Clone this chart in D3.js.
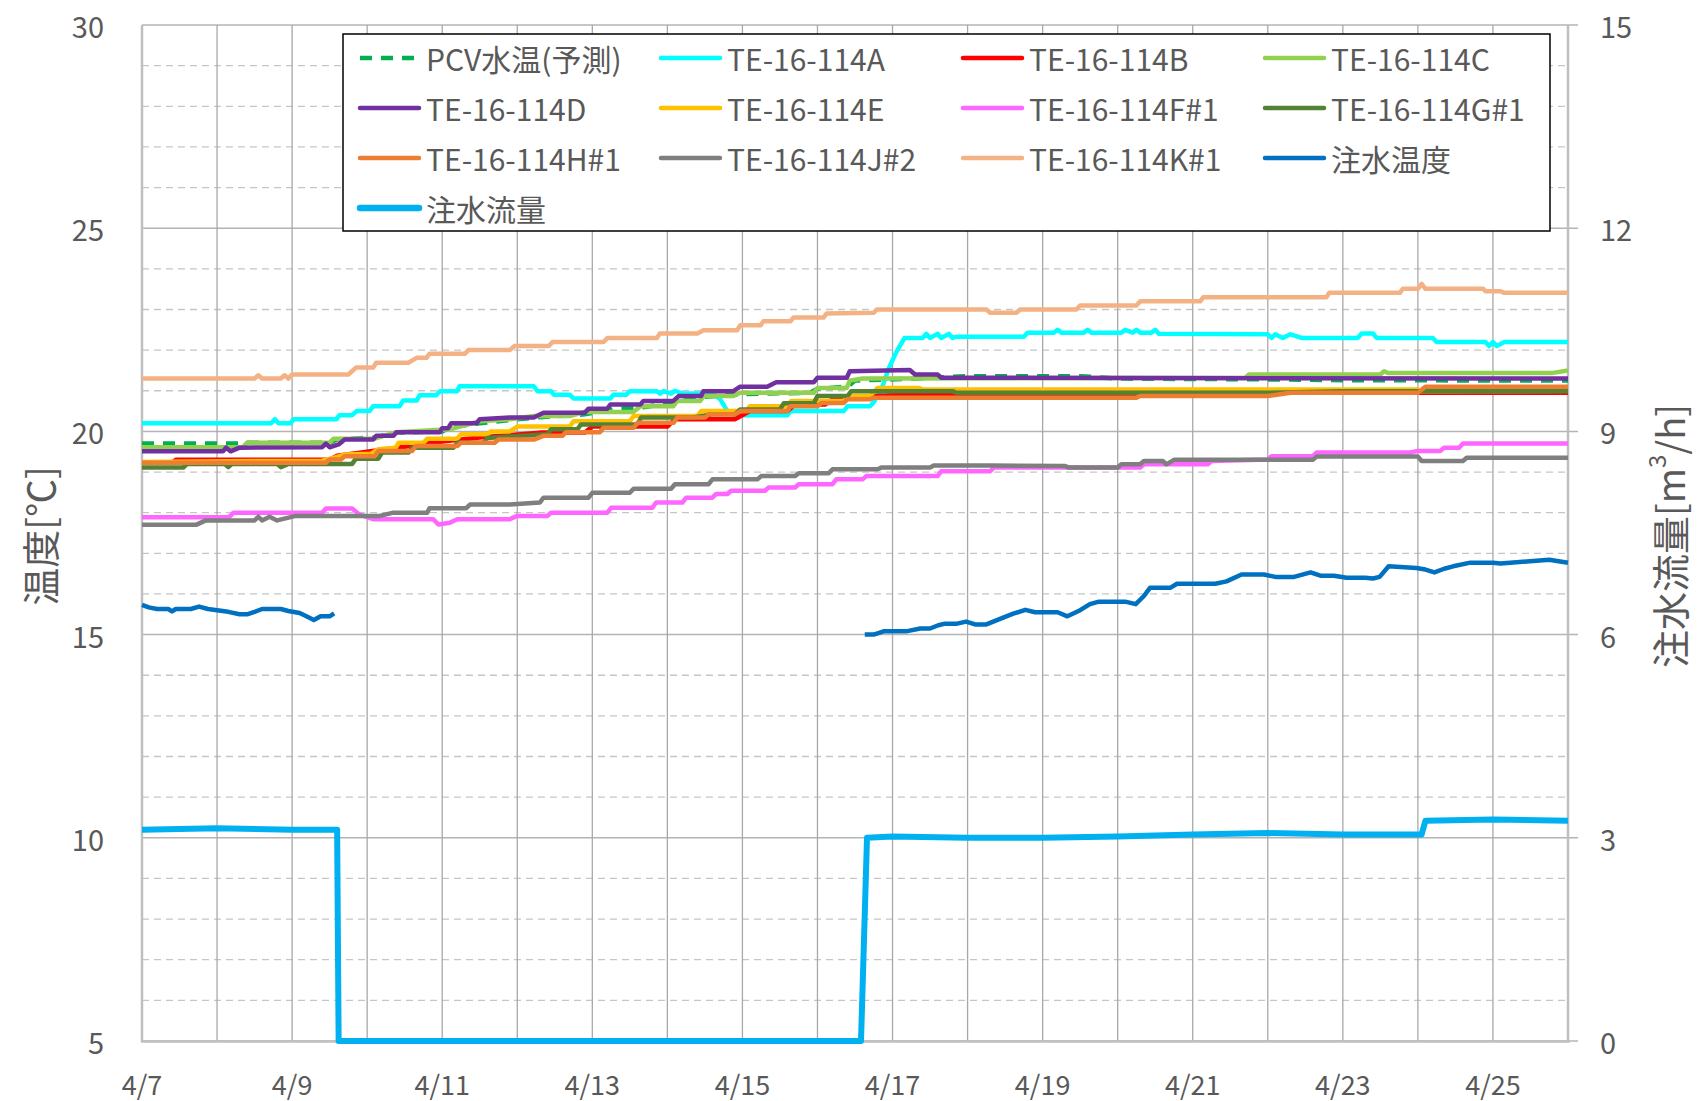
<!DOCTYPE html>
<html>
<head>
<meta charset="utf-8">
<script src="https://cdn.jsdelivr.net/npm/d3@7"></script>
<style>
  body { margin: 0; background: #fff; }
  svg { display: block; }
  text { fill: #595959; }
</style>
</head>
<body>
<svg id="chart" width="1699" height="1101"></svg>
<script>
// 日付ラベル (2日おき)
const xLabels = ["4/7", "4/9", "4/11", "4/13", "4/15", "4/17", "4/19", "4/21", "4/23", "4/25"];
const yLeftTicks = [5, 10, 15, 20, 25, 30];
const yRightTicks = [0, 3, 6, 9, 12, 15];

// [4/7からの日数, 温度]
const pcv = [[0,19.7],[1.35,19.7],[1.4,19.72],[2.5,19.72],[2.6,19.8],[3.1,19.85],[3.4,19.97],[4.0,20.0],[4.1,20.1],[4.5,20.2],[4.9,20.28],[5.3,20.35],[5.9,20.42],[6.3,20.55],[6.7,20.6],[7.1,20.72],[7.5,20.85],[8.0,20.92],[8.9,20.95],[9.0,21.05],[9.4,21.1],[9.5,21.25],[10.3,21.3],[11.0,21.36],[12.5,21.36],[13.0,21.3],[15.0,21.28],[16.0,21.26],[19.0,21.25]];
const teA = [[0,20.2],[1.72,20.2],[1.77,20.3],[1.82,20.2],[1.98,20.2],[2.02,20.3],[2.59,20.3],[2.63,20.4],[2.8,20.4],[2.86,20.5],[3.03,20.5],[3.08,20.62],[3.43,20.62],[3.48,20.76],[3.66,20.76],[3.7,20.89],[3.92,20.89],[3.97,20.99],[4.2,20.99],[4.23,21.11],[5.22,21.11],[5.27,20.99],[5.45,20.99],[5.49,20.9],[5.7,20.9],[5.75,20.81],[6.24,20.81],[6.28,20.9],[6.45,20.9],[6.5,20.99],[6.86,20.99],[6.9,20.93],[6.95,20.99],[7.05,20.93],[7.1,21.0],[7.2,20.93],[7.6,20.93],[7.7,20.8],[7.8,20.5],[7.9,20.4],[8.6,20.4],[8.64,20.5],[9.35,20.5],[9.4,20.62],[9.7,20.62],[9.75,20.72],[9.85,21.03],[9.95,21.55],[10.05,21.95],[10.16,22.3],[10.4,22.3],[10.45,22.4],[10.5,22.3],[10.6,22.4],[10.65,22.3],[10.75,22.4],[10.8,22.3],[10.85,22.33],[11.75,22.33],[11.8,22.43],[12.15,22.43],[12.2,22.5],[12.25,22.43],[12.55,22.43],[12.6,22.5],[12.65,22.43],[13.05,22.43],[13.1,22.5],[13.2,22.43],[13.25,22.5],[13.3,22.43],[13.45,22.43],[13.5,22.5],[13.55,22.4],[15.0,22.39],[15.05,22.3],[15.1,22.39],[15.2,22.3],[15.3,22.39],[15.45,22.3],[16.2,22.3],[16.25,22.41],[16.4,22.41],[16.45,22.3],[17.2,22.3],[17.25,22.2],[17.9,22.2],[17.95,22.1],[18.0,22.2],[18.05,22.1],[18.15,22.2],[19,22.2]];
const teB = [[0,19.23],[0.4,19.23],[0.45,19.3],[2.5,19.3],[2.6,19.4],[3.0,19.5],[3.5,19.62],[4.0,19.75],[4.5,19.85],[5.3,19.97],[5.9,19.97],[6.0,20.12],[7.0,20.12],[7.1,20.3],[7.9,20.3],[8.1,20.5],[8.6,20.5],[8.7,20.66],[9.1,20.66],[9.2,20.79],[9.75,20.87],[10.0,20.89],[14.5,20.89],[14.6,20.95],[19,20.95]];
const teC = [[0,19.61],[1.34,19.61],[1.4,19.72],[2.5,19.72],[2.55,19.82],[3.1,19.82],[3.39,19.98],[4.1,20.05],[4.5,20.25],[4.9,20.3],[5.22,20.38],[5.71,20.38],[5.9,20.48],[6.55,20.48],[6.64,20.62],[7.08,20.62],[7.13,20.75],[7.44,20.75],[7.48,20.87],[7.88,20.87],[7.97,20.95],[8.95,20.95],[9.0,21.07],[9.39,21.07],[9.43,21.25],[9.6,21.3],[14.7,21.32],[14.75,21.4],[16.5,21.4],[16.55,21.48],[16.6,21.44],[18.8,21.44],[19,21.5]];
const teD = [[0,19.51],[1.08,19.51],[1.12,19.6],[1.18,19.51],[1.3,19.6],[2.4,19.61],[2.45,19.7],[2.5,19.61],[2.62,19.68],[2.7,19.8],[3.08,19.8],[3.12,19.89],[3.35,19.89],[3.39,19.98],[3.97,19.98],[4.0,20.08],[4.08,20.08],[4.12,20.2],[4.46,20.2],[4.5,20.3],[4.9,20.34],[5.22,20.34],[5.35,20.46],[5.9,20.46],[5.95,20.56],[6.2,20.56],[6.24,20.66],[6.64,20.66],[6.68,20.75],[7.08,20.75],[7.15,20.87],[7.45,20.87],[7.48,20.99],[7.88,20.99],[7.97,21.1],[8.33,21.1],[8.45,21.21],[8.95,21.21],[9.0,21.32],[9.39,21.32],[9.43,21.48],[10.23,21.51],[10.3,21.4],[10.6,21.4],[10.65,21.32],[19,21.3]];
const teE = [[0,19.25],[2.4,19.28],[2.55,19.35],[2.7,19.43],[3.05,19.45],[3.15,19.56],[3.38,19.6],[3.42,19.72],[3.75,19.72],[3.8,19.82],[4.2,19.82],[4.25,19.93],[4.6,19.93],[4.65,20.0],[4.9,20.0],[5.0,20.12],[5.7,20.12],[5.75,20.25],[6.5,20.25],[6.55,20.38],[7.4,20.38],[7.45,20.5],[8.05,20.5],[8.1,20.62],[8.6,20.62],[8.65,20.75],[9.35,20.75],[9.4,20.87],[9.7,20.87],[9.8,21.07],[10.35,21.07],[10.4,21.03],[17.0,21.03],[17.05,20.99],[19,21.0]];
const teF = [[0,17.89],[1.16,17.89],[1.22,18.0],[2.4,18.0],[2.45,18.1],[2.8,18.1],[2.9,17.95],[3.08,17.84],[3.88,17.84],[3.95,17.71],[4.1,17.75],[4.2,17.84],[4.9,17.84],[5.0,17.92],[5.4,17.92],[5.45,18.0],[6.2,18.0],[6.25,18.12],[6.8,18.12],[6.85,18.25],[7.2,18.25],[7.25,18.37],[7.6,18.37],[7.65,18.46],[7.8,18.46],[7.85,18.54],[8.3,18.54],[8.35,18.62],[8.7,18.62],[8.75,18.7],[9.2,18.7],[9.25,18.82],[9.6,18.82],[9.65,18.9],[10.6,18.9],[10.65,19.02],[11.3,19.02],[11.35,19.11],[13.3,19.11],[13.35,19.19],[14.2,19.19],[14.25,19.27],[15.0,19.31],[15.05,19.39],[15.6,19.39],[15.65,19.48],[16.9,19.48],[17.0,19.52],[17.3,19.52],[17.35,19.6],[17.55,19.6],[17.6,19.7],[19,19.7]];
const teG = [[0,19.11],[0.55,19.11],[0.6,19.2],[1.1,19.2],[1.15,19.12],[1.2,19.2],[1.8,19.2],[1.85,19.12],[1.95,19.2],[2.8,19.2],[2.85,19.33],[3.15,19.33],[3.2,19.48],[3.55,19.48],[3.6,19.6],[4.15,19.6],[4.2,19.72],[4.55,19.72],[4.6,19.84],[5.4,19.93],[5.45,20.05],[5.8,20.05],[5.85,20.17],[6.6,20.17],[6.65,20.34],[7.35,20.34],[7.6,20.42],[7.9,20.42],[7.97,20.54],[8.5,20.54],[8.55,20.69],[8.95,20.69],[9.0,20.87],[9.4,20.87],[9.45,20.99],[10.8,20.99],[10.85,20.95],[15.0,20.95],[16.0,20.99],[19,20.99]];
const teH = [[0,19.23],[2.45,19.23],[2.5,19.31],[2.65,19.31],[2.7,19.39],[3.1,19.39],[3.15,19.52],[3.6,19.52],[3.65,19.64],[4.2,19.64],[4.25,19.72],[4.7,19.72],[4.75,19.8],[5.22,19.8],[5.35,19.89],[5.6,19.89],[5.65,19.98],[6.1,19.98],[6.15,20.09],[6.55,20.09],[6.6,20.21],[7.08,20.21],[7.13,20.34],[7.5,20.34],[7.55,20.42],[7.9,20.42],[7.97,20.5],[8.6,20.5],[8.64,20.62],[9.0,20.62],[9.05,20.7],[9.35,20.7],[9.4,20.79],[9.7,20.79],[9.75,20.83],[13.25,20.83],[13.3,20.87],[15.0,20.87],[15.3,20.95],[17.0,20.95],[17.1,21.1],[19,21.1]];
const teJ = [[0,17.7],[0.72,17.7],[0.85,17.81],[1.5,17.81],[1.55,17.9],[1.6,17.81],[1.7,17.9],[1.8,17.81],[2.05,17.92],[3.17,17.92],[3.35,18.0],[3.8,18.0],[3.83,18.11],[4.32,18.11],[4.37,18.2],[4.9,18.2],[5.3,18.25],[5.35,18.37],[5.95,18.37],[6.0,18.49],[6.5,18.49],[6.55,18.59],[7.05,18.59],[7.1,18.7],[7.55,18.7],[7.6,18.82],[8.2,18.82],[8.25,18.9],[8.7,18.9],[8.75,18.97],[9.15,18.97],[9.2,19.07],[9.8,19.07],[9.85,19.11],[10.5,19.11],[10.55,19.16],[11.3,19.16],[12.3,19.15],[12.35,19.11],[13.0,19.11],[13.05,19.19],[13.3,19.19],[13.35,19.27],[13.6,19.27],[13.65,19.19],[13.75,19.3],[15.6,19.3],[15.65,19.38],[17.0,19.38],[17.05,19.27],[17.6,19.27],[17.65,19.35],[19,19.35]];
const teK = [[0,21.3],[1.5,21.3],[1.55,21.38],[1.6,21.3],[1.85,21.3],[1.9,21.38],[1.95,21.3],[2.0,21.4],[2.75,21.4],[2.85,21.57],[3.08,21.57],[3.12,21.69],[3.55,21.69],[3.66,21.81],[3.79,21.81],[3.83,21.91],[4.3,21.91],[4.35,22.0],[4.9,22.0],[4.96,22.1],[5.42,22.1],[5.47,22.2],[6.15,22.2],[6.2,22.3],[6.86,22.3],[6.9,22.41],[7.4,22.41],[7.48,22.49],[7.93,22.49],[7.97,22.61],[8.24,22.61],[8.28,22.71],[8.64,22.71],[8.68,22.8],[9.08,22.8],[9.12,22.9],[9.75,22.92],[9.79,23.0],[11.25,23.0],[11.3,22.92],[11.65,22.92],[11.7,23.0],[12.45,23.0],[12.5,23.1],[13.25,23.1],[13.3,23.2],[14.1,23.2],[14.14,23.3],[15.78,23.3],[15.82,23.41],[16.76,23.41],[16.8,23.51],[17.0,23.51],[17.05,23.63],[17.1,23.51],[17.87,23.51],[17.9,23.45],[18.1,23.45],[18.15,23.41],[19,23.41]];
const injTemp = [[0,15.73],[0.09,15.67],[0.2,15.63],[0.35,15.63],[0.4,15.57],[0.45,15.63],[0.65,15.63],[0.76,15.69],[0.88,15.63],[1.0,15.6],[1.15,15.56],[1.3,15.5],[1.4,15.5],[1.5,15.56],[1.6,15.63],[1.85,15.63],[1.95,15.58],[2.1,15.53],[2.17,15.47],[2.29,15.36],[2.38,15.45],[2.5,15.45],[2.56,15.52],[2.6,null],[9.63,15.0],[9.75,15.0],[9.88,15.08],[10.18,15.08],[10.37,15.15],[10.5,15.15],[10.61,15.23],[10.7,15.27],[10.86,15.27],[10.98,15.32],[11.1,15.25],[11.25,15.25],[11.45,15.4],[11.6,15.51],[11.77,15.61],[11.9,15.55],[12.2,15.55],[12.33,15.45],[12.5,15.6],[12.63,15.75],[12.75,15.81],[13.1,15.81],[13.24,15.75],[13.35,15.95],[13.43,16.15],[13.7,16.15],[13.79,16.25],[14.3,16.25],[14.45,16.31],[14.65,16.48],[14.95,16.48],[15.1,16.42],[15.35,16.42],[15.57,16.53],[15.7,16.45],[15.88,16.45],[16.05,16.4],[16.3,16.4],[16.4,16.38],[16.49,16.42],[16.61,16.68],[16.98,16.64],[17.1,16.6],[17.22,16.53],[17.35,16.62],[17.47,16.68],[17.7,16.77],[18.0,16.77],[18.1,16.75],[18.45,16.8],[18.75,16.84],[19.0,16.77]];
// 注水流量 [m3/h] (右軸)
const injFlow = [[0,3.12],[1,3.14],[2,3.12],[2.6,3.12],[2.62,0],[9.58,0],[9.66,3.0],[10,3.02],[11,3.0],[12,3.0],[13,3.02],[14,3.05],[15,3.07],[16,3.05],[17.05,3.05],[17.1,3.25],[18,3.27],[19,3.25]];

const seriesList = [
  { name: "PCV水温(予測)", data: pcv, color: "#00B050", dash: "12,9" },
  { name: "TE-16-114A", data: teA, color: "#00FFFF" },
  { name: "TE-16-114B", data: teB, color: "#FF0000" },
  { name: "TE-16-114C", data: teC, color: "#92D050" },
  { name: "TE-16-114D", data: teD, color: "#7030A0" },
  { name: "TE-16-114E", data: teE, color: "#FFC000" },
  { name: "TE-16-114F#1", data: teF, color: "#FF66FF" },
  { name: "TE-16-114G#1", data: teG, color: "#548235" },
  { name: "TE-16-114H#1", data: teH, color: "#ED7D31" },
  { name: "TE-16-114J#2", data: teJ, color: "#7F7F7F" },
  { name: "TE-16-114K#1", data: teK, color: "#F4B183" },
  { name: "注水温度", data: injTemp, color: "#0070C0" },
  { name: "注水流量", data: injFlow, color: "#00B0F0", right: true, width: 6 }
];

const svg = d3.select("#chart");
const start = new Date(2023, 3, 7);
const end = d3.timeDay.offset(start, 19);
const dayToDate = d => new Date(start.getTime() + d * 864e5);

const x = d3.scaleTime().domain([start, end]).range([142, 1568]);
const yL = d3.scaleLinear().domain([5, 30]).range([1041, 25]);
const yR = d3.scaleLinear().domain([0, 15]).range([1041, 25]);

const fontNum = "'Noto Sans CJK JP', 'Open Sans', sans-serif";

// 横グリッド (補助: 点線)
const grid = svg.append("g");
grid.selectAll(".minor")
  .data(d3.range(6, 30).filter(v => v % 5 !== 0))
  .enter().append("line")
  .attr("x1", 142).attr("x2", 1568)
  .attr("y1", d => yL(d)).attr("y2", d => yL(d))
  .attr("stroke", "#c6c6c6").attr("stroke-width", 1.3)
  .attr("stroke-dasharray", "7,5");
grid.selectAll(".major")
  .data(yLeftTicks)
  .enter().append("line")
  .attr("x1", 142).attr("x2", 1578)
  .attr("y1", d => yL(d)).attr("y2", d => yL(d))
  .attr("stroke", "#b4b4b4").attr("stroke-width", 1.5);
// 縦グリッド (毎日)
grid.selectAll(".vgrid")
  .data(d3.timeDay.range(start, d3.timeDay.offset(end, 1)))
  .enter().append("line")
  .attr("x1", d => x(d)).attr("x2", d => x(d))
  .attr("y1", 25).attr("y2", 1041)
  .attr("stroke", "#a8a8a8").attr("stroke-width", 1.3);

// 軸線
svg.append("line").attr("x1", 142).attr("x2", 142).attr("y1", 25).attr("y2", 1042)
  .attr("stroke", "#bfbfbf").attr("stroke-width", 2.5);
svg.append("line").attr("x1", 1568).attr("x2", 1568).attr("y1", 25).attr("y2", 1042)
  .attr("stroke", "#bfbfbf").attr("stroke-width", 2.5);
svg.append("line").attr("x1", 141).attr("x2", 1570).attr("y1", 1041.5).attr("y2", 1041.5)
  .attr("stroke", "#bfbfbf").attr("stroke-width", 2.5);

// 目盛ラベル
svg.append("g").selectAll("text")
  .data(yLeftTicks).enter().append("text")
  .attr("x", 104).attr("y", d => yL(d))
  .attr("text-anchor", "end").attr("dominant-baseline", "central")
  .style("font-family", fontNum).style("font-size", "29px")
  .text(d => d);
svg.append("g").selectAll("text")
  .data(yRightTicks).enter().append("text")
  .attr("x", 1600).attr("y", d => yR(d))
  .attr("text-anchor", "start").attr("dominant-baseline", "central")
  .style("font-family", fontNum).style("font-size", "29px")
  .text(d => d);
svg.append("g").selectAll("text")
  .data(xLabels).enter().append("text")
  .attr("x", (d, i) => x(d3.timeDay.offset(start, i * 2)))
  .attr("y", 1083)
  .attr("text-anchor", "middle").attr("dominant-baseline", "central")
  .style("font-family", fontNum).style("font-size", "27px")
  .text(d => d);

// 軸タイトル
svg.append("text")
  .attr("transform", "translate(38,536) rotate(-90)")
  .attr("text-anchor", "middle").attr("dominant-baseline", "central")
  .style("font-family", fontNum).style("font-size", "38px")
  .text("温度[℃]");
const rt = svg.append("text")
  .attr("transform", "translate(1668,536) rotate(-90)")
  .attr("text-anchor", "middle").attr("dominant-baseline", "central")
  .style("font-family", fontNum).style("font-size", "38px");
rt.append("tspan").text("注水流量[m");
rt.append("tspan").attr("dy", -13).style("font-size", "24px").text("3");
rt.append("tspan").attr("dy", 13).text("/h]");

// 系列
const lines = svg.append("g");
seriesList.forEach(s => {
  const yS = s.right ? yR : yL;
  const line = d3.line()
    .defined(d => d[1] != null)
    .x(d => x(dayToDate(d[0])))
    .y(d => yS(d[1]));
  lines.append("path")
    .datum(s.data)
    .attr("d", line)
    .attr("fill", "none")
    .attr("stroke", s.color)
    .attr("stroke-width", s.width || 4.5)
    .attr("stroke-linejoin", "round")
    .attr("stroke-dasharray", s.dash || null);
});

// 凡例
const legend = svg.append("g");
legend.append("rect")
  .attr("x", 343).attr("y", 34).attr("width", 1207).attr("height", 197)
  .attr("fill", "#fff").attr("stroke", "#000").attr("stroke-width", 1.5);
const colX = [358, 659, 961, 1263];
const rowY = [58, 108, 158, 208];
seriesList.forEach((s, i) => {
  const cx = colX[i % 4], cy = rowY[Math.floor(i / 4)];
  legend.append("line")
    .attr("x1", cx + 2).attr("x2", cx + 61)
    .attr("y1", cy).attr("y2", cy)
    .attr("stroke", s.color)
    .attr("stroke-width", s.right ? 6.5 : 4.5)
    .attr("stroke-linecap", s.dash ? "butt" : "round")
    .attr("stroke-dasharray", s.dash ? "12,9" : null);
  legend.append("text")
    .attr("x", cx + 68).attr("y", cy)
    .attr("dominant-baseline", "central")
    .style("font-family", fontNum).style("font-size", "30px")
    .text(s.name);
});
</script>
</body>
</html>
